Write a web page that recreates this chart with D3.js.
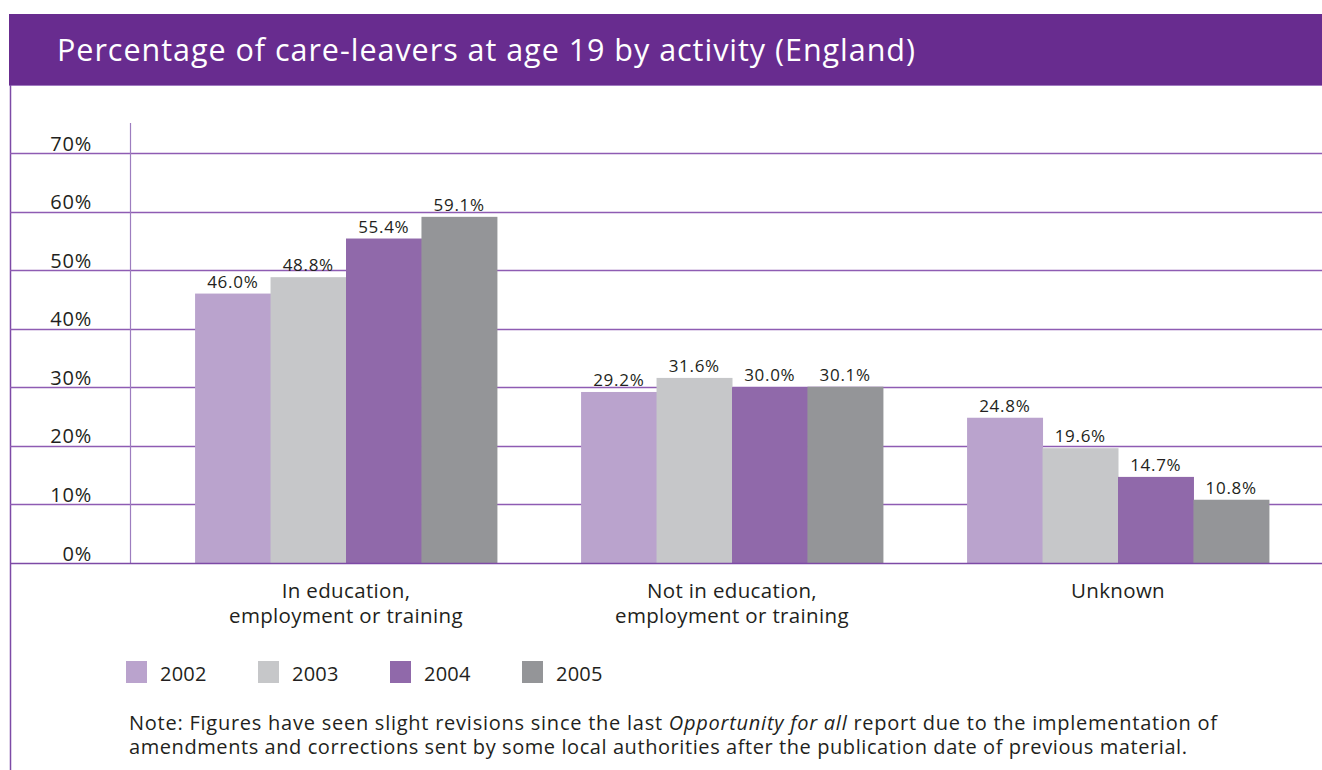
<!DOCTYPE html>
<html>
<head>
<meta charset="utf-8">
<script src="https://cdn.jsdelivr.net/npm/d3@7/dist/d3.min.js"></script>
<style>
  html, body { margin: 0; padding: 0; background: #fff; }
  svg { display: block; }
  text { font-family: "Open Sans", "Noto Sans", sans-serif; }
</style>
</head>
<body>
<svg id="chart" width="1322" height="770"></svg>
<script>
// Data
const categories = [
  ["In education,", "employment or training"],
  ["Not in education,", "employment or training"],
  ["Unknown"]
];
const categoryKeys = ["eet", "neet", "unknown"];
const years = ["2002", "2003", "2004", "2005"];
const values2002 = [46.0, 29.2, 24.8];
const values2003 = [48.8, 31.6, 19.6];
const values2004 = [55.4, 30.0, 14.7];
const values2005 = [59.1, 30.1, 10.8];
const yTicks = [0, 10, 20, 30, 40, 50, 60, 70];
const yearColors = ["#baa3cd", "#c6c7c9", "#9069aa", "#949598"];

const title = "Percentage of care-leavers at age 19 by activity (England)";

const series = [values2002, values2003, values2004, values2005];

const svg = d3.select("#chart");
const purple = "#682c8f";
const gridColor = "#8e5cb3";
const textColor = "#231f20";

// Spread a text element's letters so it spans the given width
function fitWidth(sel, width) {
  const node = sel.node();
  const str = node.textContent;
  const natural = node.getComputedTextLength();
  const ls = (width - natural) / Math.max(1, str.length - 1);
  sel.attr("letter-spacing", ls.toFixed(3));
}

// Header band
svg.append("rect").attr("x", 9).attr("y", 14).attr("width", 1313).attr("height", 71).attr("fill", purple);
svg.append("line").attr("x1", 9).attr("x2", 1322).attr("y1", 85.5).attr("y2", 85.5)
  .attr("stroke", "#a07ac0").attr("stroke-width", 1);
const titleText = svg.append("text").attr("x", 57).attr("y", 61)
  .attr("fill", "#fff").attr("font-size", 30.5)
  .text(title);
fitWidth(titleText, 858);

// Left frame line
svg.append("line").attr("x1", 10.5).attr("x2", 10.5).attr("y1", 85).attr("y2", 770)
  .attr("stroke", "#7d4aa6").attr("stroke-width", 1.5);

// Scales
const y = d3.scaleLinear().domain([0, 70]).range([563, 153]);
const x0 = d3.scaleBand().domain(categoryKeys).range([153, 1311]).paddingInner(0.218).paddingOuter(0.109);
const x1 = d3.scaleBand().domain(years).range([0, x0.bandwidth()]);
const color = d3.scaleOrdinal().domain(years).range(yearColors);

// Gridlines
const grid = svg.append("g").attr("class", "grid");
grid.selectAll("line").data(yTicks.filter(d => d > 0)).join("line")
  .attr("x1", 10).attr("x2", 1322)
  .attr("y1", d => Math.round(y(d)) + 0.5).attr("y2", d => Math.round(y(d)) + 0.5)
  .attr("stroke", gridColor).attr("stroke-width", 1.3);

// Vertical axis line
svg.append("line").attr("x1", 130.5).attr("x2", 130.5).attr("y1", 123).attr("y2", 563)
  .attr("stroke", "#9d7dbf").attr("stroke-width", 1.2);

// Y tick labels via axis
const yAxis = d3.axisLeft(y).tickValues(yTicks).tickFormat(d => d + "%").tickSize(0).tickPadding(0);
const yg = svg.append("g").attr("transform", "translate(92,-3)").call(yAxis);
yg.select(".domain").remove();
yg.selectAll("text").attr("font-size", 20).attr("fill", textColor).attr("dy", 0)
  .attr("letter-spacing", 0.8)
  .attr("font-family", "'Open Sans', 'Noto Sans', sans-serif");

// Bars
const groups = svg.append("g").selectAll("g").data(categoryKeys).join("g")
  .attr("transform", d => `translate(${x0(d)},0)`);

groups.selectAll("rect").data((d, i) => years.map((yr, j) => ({ yr, v: series[j][i] }))).join("rect")
  .attr("x", d => x1(d.yr))
  .attr("y", d => y(d.v))
  .attr("width", x1.bandwidth() + 0.5)
  .attr("height", d => y(0) - y(d.v))
  .attr("fill", d => color(d.yr));

groups.selectAll("text.val").data((d, i) => years.map((yr, j) => ({ yr, v: series[j][i] }))).join("text")
  .attr("class", "val")
  .attr("x", d => x1(d.yr) + x1.bandwidth() / 2)
  .attr("y", d => y(d.v) - 6)
  .attr("text-anchor", "middle")
  .attr("font-size", 17)
  .attr("letter-spacing", 0.7)
  .attr("fill", textColor)
  .text(d => d.v.toFixed(1) + "%");

// Baseline
svg.append("line").attr("x1", 10).attr("x2", 1322).attr("y1", y(0) + 0.5).attr("y2", y(0) + 0.5)
  .attr("stroke", "#7d4aa6").attr("stroke-width", 1.6);

// Category labels
categoryKeys.forEach((k, i) => {
  const t = svg.append("text")
    .attr("x", x0(k) + x0.bandwidth() / 2).attr("y", 598)
    .attr("text-anchor", "middle").attr("font-size", 20.5).attr("letter-spacing", 0.35)
    .attr("fill", textColor);
  categories[i].forEach((line, li) => {
    t.append("tspan").attr("x", x0(k) + x0.bandwidth() / 2).attr("dy", li === 0 ? 0 : 25).text(line);
  });
});

// Legend
const legend = svg.append("g").selectAll("g").data(years).join("g")
  .attr("transform", (d, i) => `translate(${126 + i * 132},661)`);
legend.append("rect").attr("width", 21).attr("height", 22).attr("fill", d => color(d));
legend.append("text").attr("x", 34).attr("y", 20).attr("font-size", 20).attr("letter-spacing", 0.2)
  .attr("fill", textColor).text(d => d);

// Note
const note = svg.append("text").attr("x", 129).attr("y", 730).attr("font-size", 20).attr("fill", textColor);
note.append("tspan").text("Note: Figures have seen slight revisions since the last ");
note.append("tspan").attr("font-style", "italic").text("Opportunity for all");
note.append("tspan").text(" report due to the implementation of");
fitWidth(note, 1088);
const note2 = svg.append("text").attr("x", 129).attr("y", 754).attr("font-size", 20).attr("fill", textColor)
  .text("amendments and corrections sent by some local authorities after the publication date of previous material.");
fitWidth(note2, 1058);
</script>
</body>
</html>
